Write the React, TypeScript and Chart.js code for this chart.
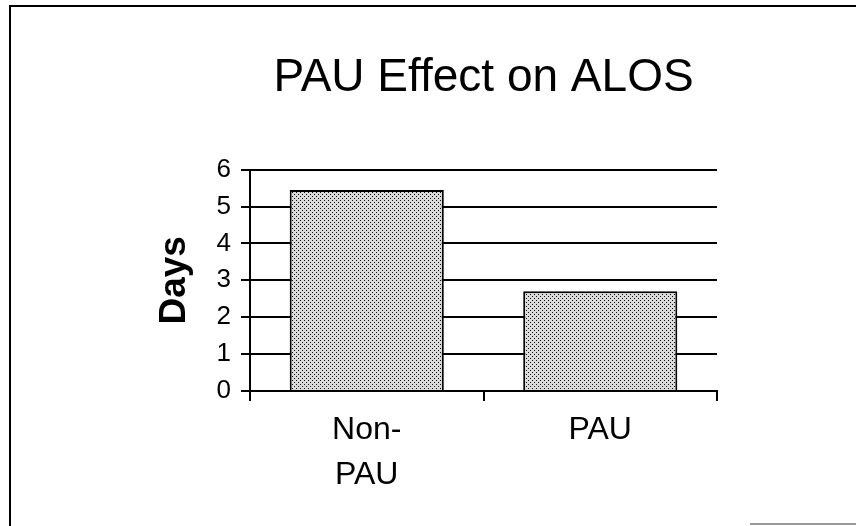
import React, { useEffect, useRef } from "react";
import { Chart, registerables } from "chart.js";

Chart.register(...registerables);

const categories: (string | string[])[] = [["Non-", "PAU"], "PAU"];
const days: number[] = [5.45, 2.7];
const titleText = "PAU Effect on ALOS";
const yAxisTitle = "Days";
const yMin = 0;
const yMax = 6;
const yStep = 1;

const FONT = "'Liberation Sans', Arial, Helvetica, sans-serif";

function makePattern(): CanvasPattern | string {
  const c = document.createElement("canvas");
  c.width = 4;
  c.height = 4;
  const g = c.getContext("2d");
  if (!g) return "#c8c8c8";
  g.fillStyle = "#dadada";
  g.fillRect(0, 0, 4, 4);
  g.fillStyle = "#111111";
  g.fillRect(0, 0, 1, 1);
  g.fillRect(2, 2, 1, 1);
  return g.createPattern(c, "repeat") || "#c8c8c8";
}

const framePlugin = {
  id: "frame",
  beforeDraw(chart: any) {
    const ctx = chart.ctx as CanvasRenderingContext2D;
    const w = chart.width;
    const h = chart.height;
    ctx.save();
    ctx.fillStyle = "#ffffff";
    ctx.fillRect(0, 0, w, h);
    ctx.strokeStyle = "#000000";
    ctx.lineWidth = 2;
    ctx.beginPath();
    ctx.moveTo(10, h);
    ctx.lineTo(10, 6);
    ctx.lineTo(w, 6);
    ctx.stroke();
    ctx.strokeStyle = "#999999";
    ctx.beginPath();
    ctx.moveTo(750, h - 2);
    ctx.lineTo(w, h - 2);
    ctx.stroke();
    ctx.restore();
  },
};

export default function App() {
  const ref = useRef<HTMLCanvasElement | null>(null);

  useEffect(() => {
    if (!ref.current) return;
    const pattern = makePattern();
    const chart = new Chart(ref.current, {
      type: "bar",
      data: {
        labels: categories as any,
        datasets: [
          {
            data: days,
            backgroundColor: pattern as any,
            borderColor: "#000000",
            borderWidth: 2,
            barPercentage: 0.66,
            categoryPercentage: 1,
          },
        ],
      },
      options: {
        responsive: false,
        animation: false,
        devicePixelRatio: 1,
        layout: { padding: { left: 150, right: 139, top: 0, bottom: 0 } },
        plugins: {
          legend: { display: false },
          tooltip: { enabled: false },
          title: {
            display: true,
            text: titleText,
            fullSize: false,
            color: "#000000",
            font: { family: FONT, size: 46, weight: "normal", lineHeight: 1.2 },
            padding: { top: 51, bottom: 63.4 },
          },
        },
        scales: {
          x: {
            grid: {
              display: true,
              drawOnChartArea: false,
              drawTicks: true,
              tickLength: 10,
              color: "#000000",
              lineWidth: 2,
              offset: true,
            },
            border: { display: true, color: "#000000", width: 2 },
            ticks: {
              color: "#000000",
              font: { family: FONT, size: 32, lineHeight: 1.4 },
              padding: 6.5,
              maxRotation: 0,
              autoSkip: false,
            },
            afterFit(s: any) {
              s.height = 135;
            },
          },
          y: {
            min: yMin,
            max: yMax,
            ticks: {
              stepSize: yStep,
              color: "#000000",
              font: { family: FONT, size: 26 },
              padding: 10,
            },
            grid: { color: "#000000", lineWidth: 2, tickLength: 9 },
            border: { display: true, color: "#000000", width: 2 },
            title: {
              display: true,
              text: yAxisTitle,
              color: "#000000",
              font: { family: FONT, size: 37, weight: "bold", lineHeight: 1 },
              padding: { top: 6.5, bottom: 0 },
            },
            afterFit(s: any) {
              s.width = 100;
            },
          },
        },
      } as any,
      plugins: [framePlugin],
    });
    return () => chart.destroy();
  }, []);

  return (
    <div style={{ position: "fixed", left: 0, top: 0, width: 856, height: 526 }}>
      <canvas ref={ref} width={856} height={526} style={{ display: "block" }} />
    </div>
  );
}
